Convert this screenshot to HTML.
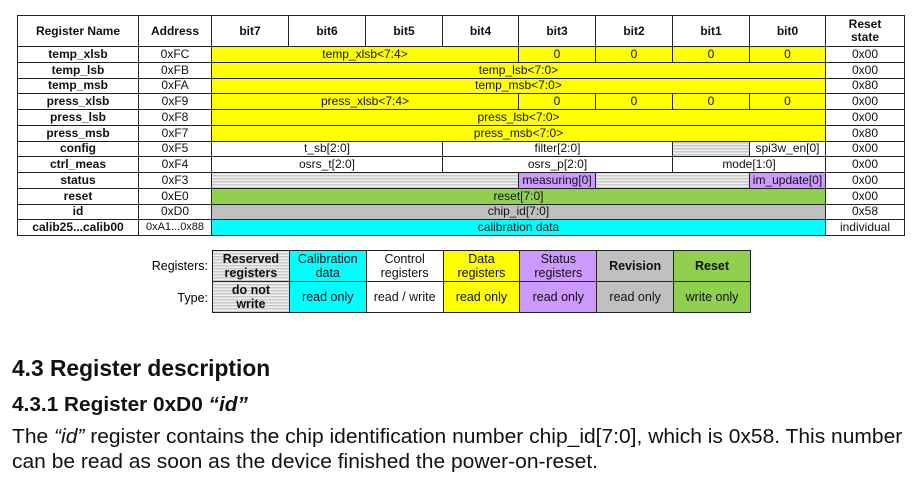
<!DOCTYPE html>
<html><head><style>
body{margin:0;width:921px;height:486px;background:#fff;position:relative;overflow:hidden;font-family:"Liberation Sans",Arial,sans-serif;}
table{border-collapse:collapse;table-layout:fixed;position:absolute;}
td{border:1.5px solid #222;padding:0;text-align:center;font-size:12px;line-height:13px;overflow:hidden;white-space:nowrap;color:#111;}
#t{left:17px;top:15px;width:887px;}
#t tr{height:15.75px;}
#t tr.h{height:31px;}
#t tr.h td{font-weight:bold;font-size:12px;}
.n{font-weight:bold;}
.y{background:#ffff00;}
.g{background:#8fd14f;}
.gr{background:#c0c0c0;}
.c{background:#00ffff;}
.p{background:#cc99ff;}
.x{background:repeating-linear-gradient(0deg,#c8c8c8 0 1.5px,#f0f0f0 1.5px 3px);}
#l{left:212px;top:250px;width:539px;}
#l td{height:30px;font-size:12.5px;line-height:14px;white-space:normal;}
.b{font-weight:bold;}
.lab{position:absolute;font-size:12.5px;left:140px;width:68px;text-align:right;}
.h1{position:absolute;left:12px;top:355px;font-weight:bold;font-size:23px;transform:scaleX(0.99);transform-origin:left;color:#111;white-space:nowrap;}
.h2{position:absolute;left:12px;top:394px;font-weight:bold;font-size:20px;transform:scaleX(1.04);transform-origin:left;color:#111;white-space:nowrap;}
.p1{position:absolute;left:12px;font-size:20px;transform-origin:left;transform:scaleX(1.05);color:#111;white-space:nowrap;}
</style></head><body>
<table id="t">
<colgroup><col style="width:121px"><col style="width:73px"><col style="width:77px"><col style="width:77px"><col style="width:77px"><col style="width:76px"><col style="width:77px"><col style="width:77px"><col style="width:77px"><col style="width:76px"><col style="width:79px"></colgroup>
<tr class="h"><td>Register Name</td><td>Address</td><td>bit7</td><td>bit6</td><td>bit5</td><td>bit4</td><td>bit3</td><td>bit2</td><td>bit1</td><td>bit0</td><td>Reset<br>state</td></tr>
<tr><td class="n">temp_xlsb</td><td>0xFC</td><td class="y" colspan="4">temp_xlsb&lt;7:4&gt;</td><td class="y">0</td><td class="y">0</td><td class="y">0</td><td class="y">0</td><td>0x00</td></tr>
<tr><td class="n">temp_lsb</td><td>0xFB</td><td class="y" colspan="8">temp_lsb&lt;7:0&gt;</td><td>0x00</td></tr>
<tr><td class="n">temp_msb</td><td>0xFA</td><td class="y" colspan="8">temp_msb&lt;7:0&gt;</td><td>0x80</td></tr>
<tr><td class="n">press_xlsb</td><td>0xF9</td><td class="y" colspan="4">press_xlsb&lt;7:4&gt;</td><td class="y">0</td><td class="y">0</td><td class="y">0</td><td class="y">0</td><td>0x00</td></tr>
<tr><td class="n">press_lsb</td><td>0xF8</td><td class="y" colspan="8">press_lsb&lt;7:0&gt;</td><td>0x00</td></tr>
<tr><td class="n">press_msb</td><td>0xF7</td><td class="y" colspan="8">press_msb&lt;7:0&gt;</td><td>0x80</td></tr>
<tr><td class="n">config</td><td>0xF5</td><td colspan="3">t_sb[2:0]</td><td colspan="3">filter[2:0]</td><td class="x"></td><td>spi3w_en[0]</td><td>0x00</td></tr>
<tr><td class="n">ctrl_meas</td><td>0xF4</td><td colspan="3">osrs_t[2:0]</td><td colspan="3">osrs_p[2:0]</td><td colspan="2">mode[1:0]</td><td>0x00</td></tr>
<tr><td class="n">status</td><td>0xF3</td><td class="x" colspan="4"></td><td class="p">measuring[0]</td><td class="x" colspan="2"></td><td class="p">im_update[0]</td><td>0x00</td></tr>
<tr><td class="n">reset</td><td>0xE0</td><td class="g" colspan="8">reset[7:0]</td><td>0x00</td></tr>
<tr><td class="n">id</td><td>0xD0</td><td class="gr" colspan="8">chip_id[7:0]</td><td>0x58</td></tr>
<tr><td class="n">calib25...calib00</td><td style="font-size:11px">0xA1...0x88</td><td class="c" colspan="8">calibration data</td><td>individual</td></tr>
</table>
<div class="lab" style="top:259px">Registers:</div>
<div class="lab" style="top:291px">Type:</div>
<table id="l">
<tr><td class="x b">Reserved registers</td><td class="c">Calibration data</td><td>Control registers</td><td class="y">Data registers</td><td class="p">Status registers</td><td class="gr b">Revision</td><td class="g b">Reset</td></tr>
<tr><td class="x b">do not<br>write</td><td class="c">read only</td><td>read / write</td><td class="y">read only</td><td class="p">read only</td><td class="gr">read only</td><td class="g">write only</td></tr>
</table>
<div class="h1">4.3 Register description</div>
<div class="h2">4.3.1 Register 0xD0 <i>“id”</i></div>
<div class="p1" style="top:426px">The <i>“id”</i> register contains the chip identification number chip_id[7:0], which is 0x58. This number</div>
<div class="p1" style="top:451px">can be read as soon as the device finished the power-on-reset.</div>
</body></html>
